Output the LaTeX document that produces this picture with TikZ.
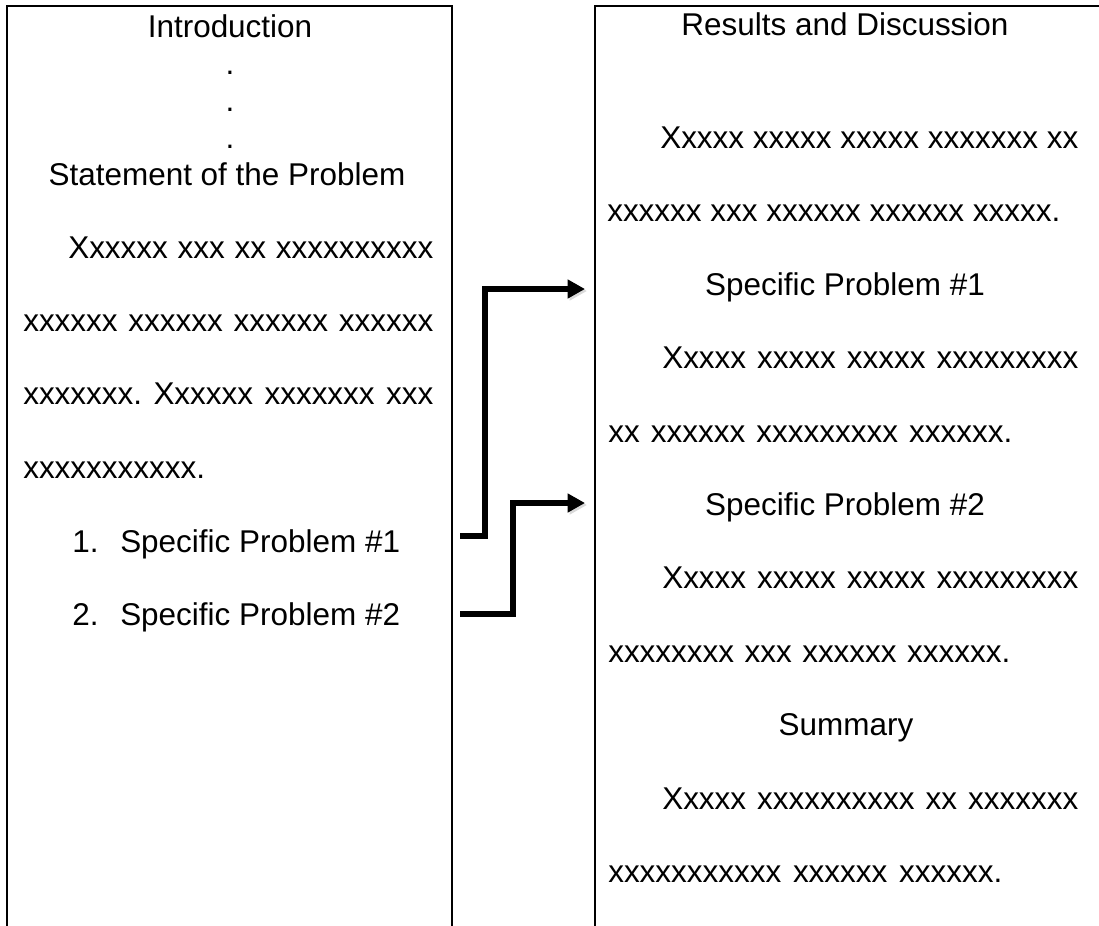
\documentclass[tikz,border=0pt]{standalone}
\usepackage{fontspec}
\setmainfont{Liberation Sans}
\usetikzlibrary{arrows.meta}
\frenchspacing
% a line of the page, its spaces stretched to a width in px
\newcommand{\jline}[2]{\makebox[\dimexpr #1pt*3/4\relax][s]{#2}}
\newcommand{\itemno}[1]{\makebox[\dimexpr 48pt*3/4\relax][l]{#1}}
\begin{document}
\begin{tikzpicture}[x=0.75pt,y=-0.75pt]
        \tikzstyle{arrow} = [line width=4.5pt,-{Triangle[length=13pt,width=13.5pt]},preaction={draw=black!15,transform canvas={shift={(2,2)}}}]
        \tikzstyle{frame} = [line width=1.5pt]
        \tikzstyle{title} = [inner sep=0pt, anchor=base, font=\fontsize{23.6}{28}\selectfont]
        \tikzstyle{body} = [inner sep=0pt, anchor=base west, font=\fontsize{23.6}{28}\selectfont]
        \useasboundingbox (0,0) rectangle (1099,925);

        % the two pages
        \draw [frame] (7,935) -- (7,5.5) -- (452,5.5) -- (452,935);
        \draw [frame] (595,935) -- (595,5.5) -- (1110,5.5);

        % left page
        \node (intro) [title] at (230,37) {Introduction};
        \node (dot1) [title] at (230,74) {.};
        \node (dot2) [title] at (230,111) {.};
        \node (dot3) [title] at (230,148) {.};
        \node (stmt) [title] at (227,185) {Statement of the Problem};
        \node (stA) [body] at (68,258) {\jline{365}{Xxxxxx xxx xx xxxxxxxxxx}};
        \node (stB) [body] at (23,331) {\jline{410}{xxxxxx xxxxxx xxxxxx xxxxxx}};
        \node (stC) [body] at (23,404) {\jline{410}{xxxxxxx. Xxxxxx xxxxxxx xxx}};
        \node (stD) [body] at (23,478) {xxxxxxxxxxx.};
        \node (sp1) [body] at (72,552) {\itemno{1.}Specific Problem \#1};
        \node (sp2) [body] at (72,625) {\itemno{2.}Specific Problem \#2};

        % right page
        \node (results) [title] at (845,35) {Results and Discussion};
        \node (rdA) [body] at (660,148) {\jline{418}{Xxxxx xxxxx xxxxx xxxxxxx xx}};
        \node (rdB) [body] at (607,221) {\jline{453}{xxxxxx xxx xxxxxx xxxxxx xxxxx.}};
        \node (rsp1) [title] at (845,295) {Specific Problem \#1};
        \node (rsp1A) [body] at (662,368) {\jline{416}{Xxxxx xxxxx xxxxx xxxxxxxxx}};
        \node (rsp1B) [body] at (608,442) {\jline{404}{xx xxxxxx xxxxxxxxx xxxxxx.}};
        \node (rsp2) [title] at (845,515) {Specific Problem \#2};
        \node (rsp2A) [body] at (662,588) {\jline{416}{Xxxxx xxxxx xxxxx xxxxxxxxx}};
        \node (rsp2B) [body] at (608,662) {\jline{402}{xxxxxxxx xxx xxxxxx xxxxxx.}};
        \node (summ) [title] at (846,735) {Summary};
        \node (summA) [body] at (662,809) {\jline{416}{Xxxxx xxxxxxxxxx xx xxxxxxx}};
        \node (summB) [body] at (608,882) {\jline{394}{xxxxxxxxxxx xxxxxx xxxxxx.}};

        \coordinate (out1) at (460,536);
        \coordinate (out2) at (460,614);
        \coordinate (in1) at (585,289);
        \coordinate (in2) at (585,503);

        \draw [arrow] (out1) -- ++(25,0) |- (in1);
        \draw [arrow] (out2) -- ++(53,0) |- (in2);

    \end{tikzpicture}
\end{document}
